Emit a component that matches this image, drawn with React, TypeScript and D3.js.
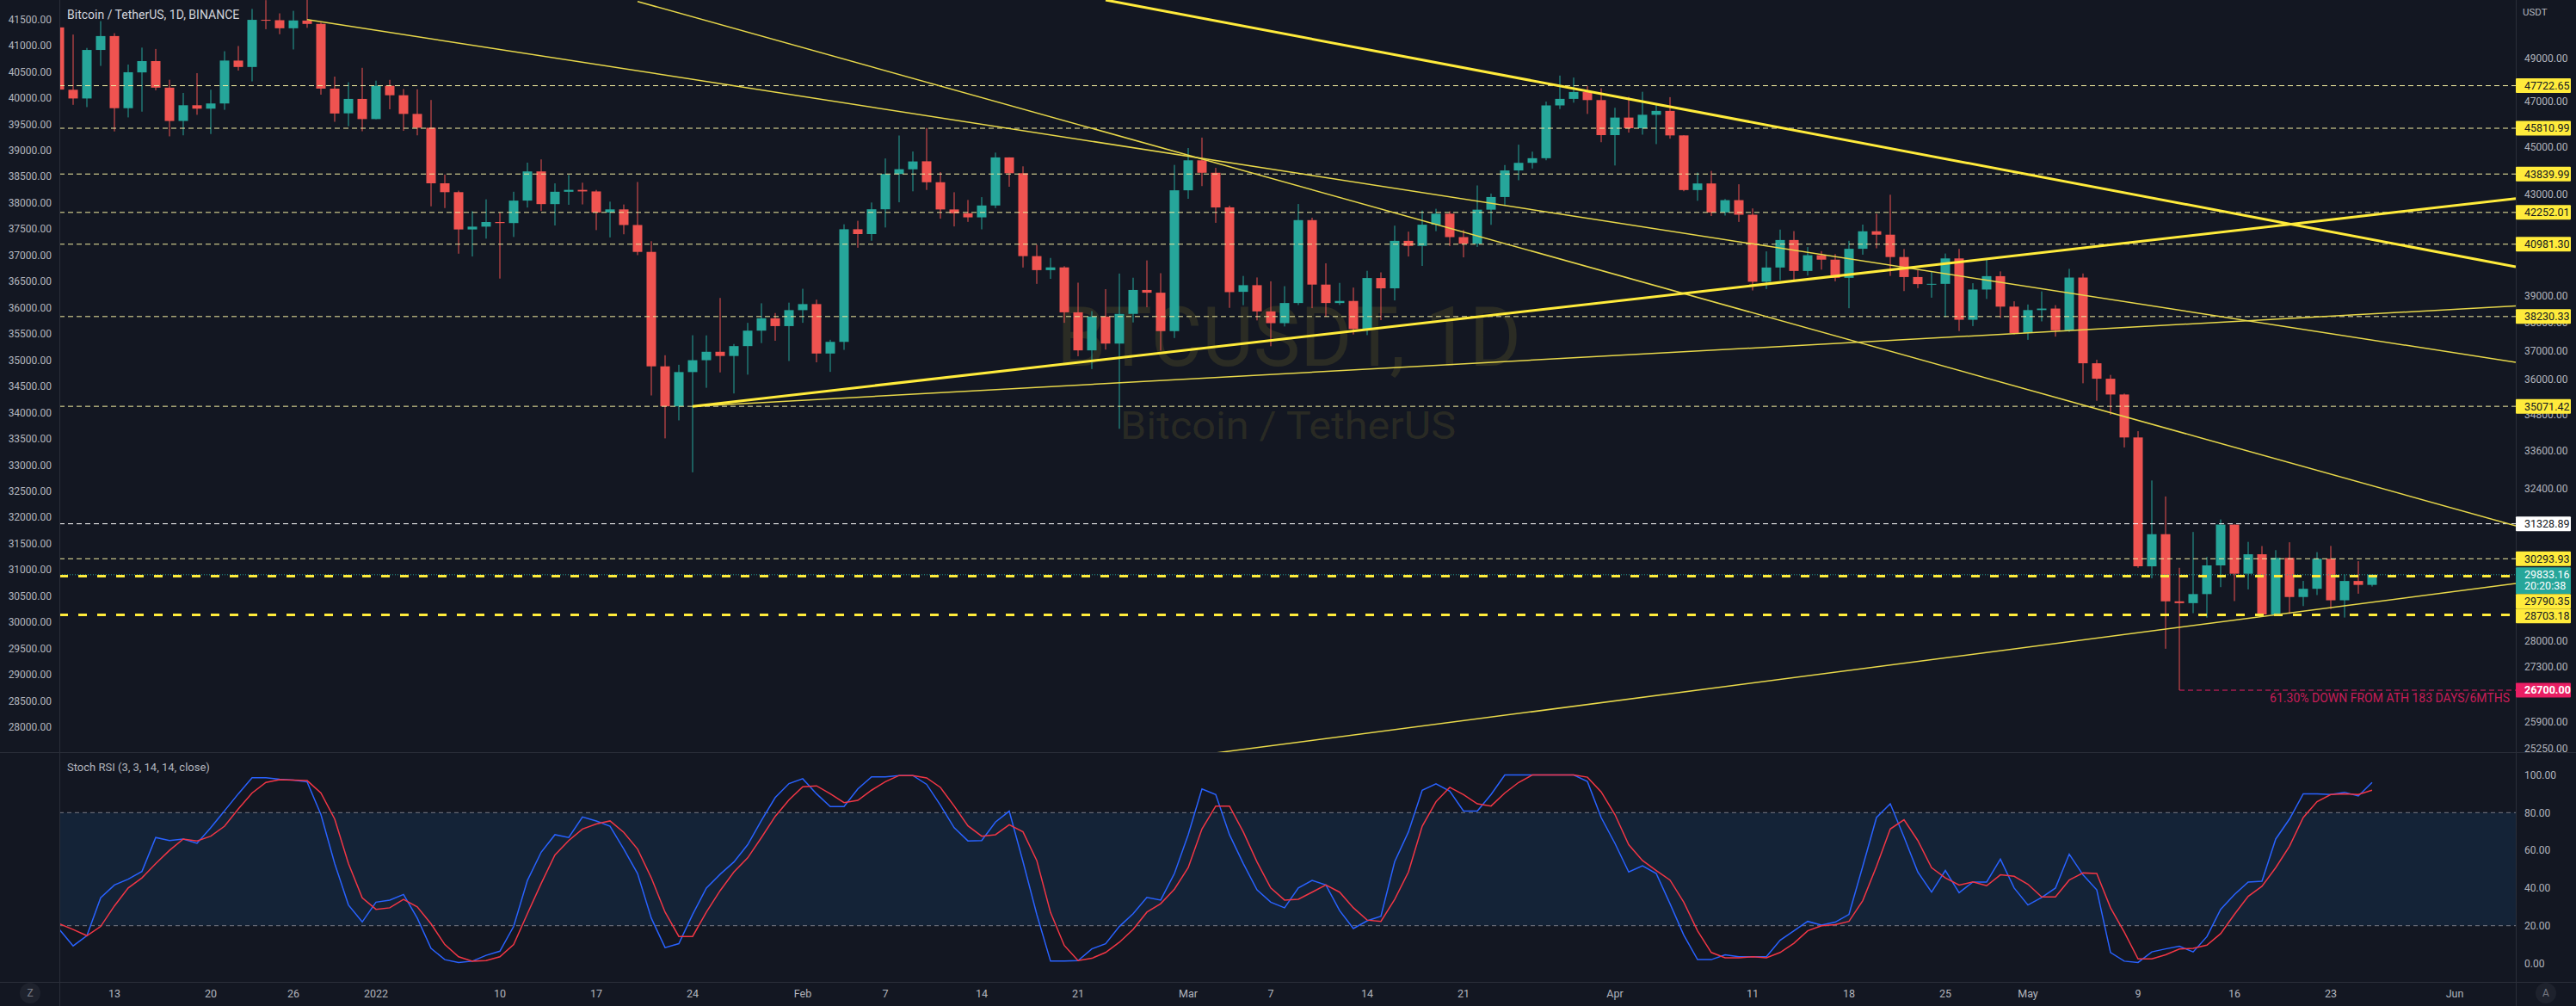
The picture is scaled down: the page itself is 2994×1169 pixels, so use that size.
import React from 'react';
import * as d3 from 'd3';

const WIDTH = 2994;
const HEIGHT = 1169;
const PANE_L = 69;
const PANE_R = 2924;
const MAIN_B = 874;
const STOCH_T = 875;
const STOCH_B = 1141;
const FONT = "Roboto, 'Noto Sans', sans-serif";
const TEXT = '#b2b5be';
const BG = '#131722';
const UP = '#26a69a';
const DOWN = '#ef5350';
const YELLOW = '#ffeb3b';

// daily candles, first one is 2021-12-09
const START = '2021-12-09';
const OPEN = [
  50471, 47535, 47140, 49389, 50053, 46702, 48336, 48864, 47632, 46133, 46834, 46681, 46914, 48887, 48588, 50838, 50821, 50429, 50803, 50640, 47588, 46472, 47120,
  46216, 47722, 47286, 46446, 45832, 43451, 43082, 41566, 41679, 41864, 41822, 42735, 43949, 42591, 43099, 43177, 43113, 42250, 42375, 41744, 40680, 36445, 35071, 36244, 36660, 36958, 36809, 37160, 37716, 38166, 37881,
  38466, 38690, 36896, 37311, 41574, 41382, 42380, 43839, 44038, 44380, 43495, 42373, 42217, 42053, 42535, 44544, 43873, 40515, 39974, 40079, 38386, 37008, 38230, 37250, 38328, 39219, 39116, 37699,
  43160, 44421, 43892, 42458, 39148, 39400, 38420, 37988, 38730, 41941, 39422, 38730, 38807, 37777, 39671, 39280, 41114, 40917, 41757, 42201, 41262, 41002, 42364, 42882, 43991, 44313, 44511, 46827, 47122, 47434, 47067,
  45510, 46283, 45811, 46407, 46580, 45497, 43170, 43444, 42252, 42753, 42159, 39530, 40074, 41148, 39942, 40552, 40378, 39678, 40801, 41494, 41358, 40480, 39709, 39441, 39450, 40426, 38112, 39235, 39742, 38596,
  37630, 38468, 38525, 37728, 39690, 36552, 36013, 35472, 34038, 30074, 31017, 29080, 29030, 29283, 30101, 31305, 29862, 30425, 28716, 30319, 29201, 29432, 30293, 29109, 29654, 29543,
];
const HIGH = [
  50797, 50125, 49485, 50777, 50189, 48700, 49500, 49436, 47995, 47392, 48300, 47537, 49328, 49576, 51375, 51810, 51156, 51280, 52088, 50704, 48139, 47879, 48548,
  47954, 47990, 47570, 47557, 47070, 43816, 43145, 42300, 42786, 42248, 43100, 44322, 44459, 43448, 43800, 43476, 43176, 42691, 42575, 43505, 41100, 36835, 36499, 37550, 37545, 38919, 37234, 38000, 38720, 38359, 38744,
  39265, 38855, 37387, 41772, 41913, 42656, 44500, 45492, 44799, 45821, 43920, 43079, 42760, 42876, 44751, 44549, 44164, 40959, 40444, 40125, 39494, 38429, 39249, 39843, 39683, 40348, 39855, 44225,
  44949, 45400, 44101, 42527, 39751, 39693, 39547, 39362, 42594, 42039, 40236, 39486, 39309, 39947, 39887, 41718, 41478, 42325, 42400, 42296, 41544, 43361, 43025, 44220, 45094, 44792, 46999, 48189, 48097, 47700, 47600,
  46720, 47213, 47444, 46890, 47200, 45507, 43900, 43970, 42800, 43410, 42414, 40699, 41561, 41500, 40870, 40709, 40595, 41116, 41760, 42199, 42976, 40795, 39980, 39940, 40617, 40797, 39474, 40372, 39925, 38795,
  38675, 39167, 38651, 40023, 39845, 36675, 36146, 35503, 34243, 32659, 32162, 30032, 31083, 30343, 31460, 31308, 30789, 30666, 30545, 30777, 29656, 30487, 30670, 29837, 30223, 29840,
];
const LOW = [
  47320, 46852, 46751, 48638, 45672, 46290, 46547, 47511, 45456, 45500, 46406, 45558, 46630, 48421, 47920, 50384, 50142, 49412, 50449, 47313, 46096, 45900, 45678,
  46208, 46654, 45696, 45500, 42500, 42430, 40610, 40501, 41200, 39650, 41268, 42450, 42311, 41725, 42563, 42578, 41540, 41250, 41374, 40553, 35440, 34008, 34601, 32917, 35701, 36234, 35507, 36155, 37268, 37351, 36632,
  38000, 36586, 36250, 37026, 40843, 41116, 41645, 42666, 43117, 43174, 42000, 41688, 41870, 41570, 42427, 43307, 40073, 39450, 39639, 38000, 36800, 36350, 37036, 34322, 38014, 38573, 37000, 37450,
  42809, 43334, 41832, 38550, 38650, 38088, 37155, 37867, 38656, 38539, 38223, 38660, 37578, 37555, 38098, 38828, 40500, 40135, 41499, 40911, 40467, 40875, 41751, 42560, 43579, 44071, 44422, 46663, 46950, 46445, 45200,
  44200, 45620, 45530, 45118, 45353, 43121, 42727, 42107, 42125, 41868, 39200, 39254, 39588, 39551, 39766, 39991, 39546, 38536, 40571, 40820, 39751, 39177, 39285, 38929, 38200, 37702, 37881, 38881, 38175, 37578,
  37386, 38052, 37500, 37670, 35856, 35258, 34785, 33713, 30033, 29730, 27785, 26700, 28751, 28630, 29480, 29087, 29415, 28654, 28670, 28730, 28948, 29256, 28866, 28630, 29294, 29496,
];
const CLOSE = [
  47545, 47140, 49389, 50053, 46702, 48343, 48864, 47632, 46131, 46834, 46681, 46914, 48889, 48588, 50838, 50821, 50429, 50809, 50640, 47588, 46464, 47120, 46216,
  47722, 47286, 46446, 45832, 43451, 43082, 41566, 41679, 41864, 41822, 42735, 43949, 42591, 43099, 43177, 43113, 42250, 42375, 41744, 40680, 36445, 35071, 36244, 36660, 36958, 36809, 37160, 37716, 38166, 37881, 38466,
  38690, 36896, 37311, 41574, 41382, 42380, 43839, 44042, 44373, 43495, 42373, 42217, 42053, 42535, 44544, 43873, 40515, 39974, 40079, 38386, 37008, 38230, 37250, 38327, 39219, 39116, 37699, 43160,
  44421, 43892, 42454, 39137, 39400, 38420, 37988, 38730, 41941, 39422, 38730, 38807, 37777, 39671, 39280, 41114, 40917, 41757, 42201, 41262, 41002, 42364, 42882, 43991, 44313, 44511, 46827, 47122, 47434, 47067, 45510,
  46283, 45811, 46407, 46580, 45497, 43170, 43444, 42252, 42753, 42159, 39530, 40074, 41147, 39942, 40551, 40378, 39678, 40801, 41493, 41358, 40480, 39709, 39441, 39450, 40426, 38112, 39235, 39743, 38596, 37630,
  38468, 38525, 37728, 39690, 36552, 36013, 35472, 34038, 30076, 31017, 29080, 29030, 29283, 30101, 31305, 29862, 30425, 28715, 30319, 29201, 29432, 30293, 29109, 29654, 29543, 29833,
];

// Stoch RSI (3, 3, 14, 14, close), same days
const STOCH_K = [
  18, 9.3, 14.7, 34.8, 41.6, 44.7, 48.8, 66.8, 65.2, 66, 63.7, 72, 81, 90, 98.5, 98.5, 97.7, 97.3, 96.3, 79, 53, 31, 22,
  32.5, 33.6, 36.6, 24, 8, 2, 0.5, 1.2, 4.3, 6.5, 19.6, 44, 59, 68.3, 66.8, 77.7, 75.6, 72.8, 60.7, 47.7, 24, 8.4, 10.5, 26, 40, 47.3, 53.8, 63, 75.9, 88, 95.4,
  98, 90, 83.2, 83.2, 92.6, 99, 99, 99.7, 99.7, 95, 84, 72, 65, 65.2, 75, 80.8, 54, 26, 1.2, 1.2, 1.5, 7.7, 10.4, 19.6, 26.4, 35, 33.6, 47.7,
  68.3, 92.6, 89.6, 68.3, 53, 39, 32.5, 29.5, 40, 44, 41.6, 28, 18.5, 22.6, 25, 54, 69.8, 91.9, 95.3, 91.4, 80.8, 80.8, 89.6, 100, 100, 100, 100, 100, 100, 96.5, 77.4,
  63.7, 48.5, 51.8, 47.7, 31.7, 15, 2, 2, 4.6, 3.5, 3.5, 3.5, 12.3, 17.3, 22.3, 20.3, 21.9, 26, 51.5, 77.4, 84.7, 67, 48.5, 37.8, 49.3, 37.5, 43.2, 43.2, 55.3, 40,
  31, 35, 40, 58, 47, 39, 5.8, 1.2, 0.5, 6.1, 7.7, 9.1, 6.1, 14.2, 28.7, 36.5, 43.2, 43.6, 66, 76.6, 90, 90, 89.6, 90.8, 88.8, 96,
];
const STOCH_D = [
  21, 18, 14.7, 19.6, 30.5, 40, 45.4, 53, 60, 66, 65, 67.5, 72.8, 82, 90.4, 96, 97.5, 97.3, 97, 90.4, 76.6, 53, 34.8,
  28.7, 29.5, 34, 30, 21, 10, 3.5, 1.2, 1.5, 3.5, 10, 26.4, 42.4, 57.6, 65.2, 71.3, 74, 75.6, 69.5, 60.7, 45.4, 27.2, 14.3, 14.3, 27.2, 38.6, 48.5, 56, 66.8, 78, 86.8,
  93.7, 94.2, 90, 85.3, 86.5, 91.9, 96.4, 99.7, 99.7, 98.4, 93.4, 83.5, 73, 67.5, 68.3, 73.6, 69.8, 54.6, 27, 9.5, 1.5, 2.7, 5.8, 11.2, 18, 27.2, 31.7, 39.4,
  50.8, 71.3, 83.5, 83.5, 69.8, 53.8, 40, 33.6, 34, 37.8, 41.6, 37.8, 29.5, 23, 22.3, 34, 48.5, 72.8, 85.8, 93.4, 89.6, 84.7, 83.5, 90.4, 96, 100, 100, 100, 100, 98.8, 91,
  79, 63, 54.6, 49.3, 44.2, 32.5, 17.3, 5.8, 3, 3, 3.5, 3, 5.8, 10.7, 17.3, 20, 20.6, 22.3, 33.3, 51.5, 71.3, 76.2, 65.2, 50.8, 45.4, 41.6, 43.2, 41.2, 47, 46.2,
  42, 35.3, 35.3, 44.2, 48, 47.7, 29.5, 16.6, 2.4, 2.4, 4.6, 7.6, 8, 9.7, 15.8, 26, 35.6, 40.9, 50.8, 62.2, 77.4, 85.8, 89.6, 90, 89.6, 91.9,
];

const LEFT_TICKS = d3.range(28000, 42000, 500);
const RIGHT_TICKS = [49000, 47000, 45000, 43000, 39000, 38000, 37000, 36000, 34800, 33600, 32400, 28000, 27300, 25900, 25250];
const STOCH_TICKS = [100, 80, 60, 40, 20, 0];
const DATE_TICKS = [
  '2021-12-13', '2021-12-20', '2021-12-26', '2022-01-01', '2022-01-10', '2022-01-17', '2022-01-24', '2022-02-01',
  '2022-02-07', '2022-02-14', '2022-02-21', '2022-03-01', '2022-03-07', '2022-03-14', '2022-03-21', '2022-04-01',
  '2022-04-11', '2022-04-18', '2022-04-25', '2022-05-01', '2022-05-09', '2022-05-16', '2022-05-23', '2022-06-01',
];
const DATE_LABELS = ['13', '20', '26', '2022', '10', '17', '24', 'Feb', '7', '14', '21', 'Mar', '7', '14', '21', 'Apr', '11', '18', '25', 'May', '9', '16', '23', 'Jun'];

// horizontal levels
const LEVELS = [47722.65, 45810.99, 43839.99, 42252.01, 40981.30, 38230.33, 35071.42, 30293.93];
const WHITE_LEVEL = 31328.89;
const BOLD_LEVELS = [29790.35, 28703.18];
const LAST_PRICE = 29833.16;
const COUNTDOWN = '20:20:38';
const LOW_DATE = '2022-05-12';
const LOW_PRICE = 26700;
const LOW_NOTE = '61.30% DOWN FROM ATH 183 DAYS/6MTHS';

// trend lines: two anchors each [date, price], extended right
const THICK_TRENDS: [string, number][][] = [
  [['2022-01-24', 35071], ['2022-05-20', 41770]],
  [['2022-02-23', 51817], ['2022-04-30', 43931]],
];
const THIN_TRENDS: [string, number][][] = [
  [['2021-12-27', 50853], ['2022-04-30', 39427]],
  [['2022-01-20', 51744], ['2022-04-30', 35770]],
  [['2022-01-24', 35071], ['2022-04-30', 37610]],
  [['2022-03-01', 25052], ['2022-05-12', 28362]],
];

const parse = d3.utcParse('%Y-%m-%d');

export default function App() {
  const start = parse(START) as Date;
  const dates = OPEN.map((_, i) => d3.utcDay.offset(start, i));

  const x = d3.scaleUtc()
    .domain([parse('2021-12-13') as Date, parse('2022-06-01') as Date])
    .range([133, 2853]);
  const y = d3.scaleLog().domain([25158, 51817]).range([MAIN_B, 0]);
  const yLeft = d3.scaleLinear().domain([28000, 41500]).range([845, 22.5]);
  const ys = d3.scaleLinear().domain([0, 100]).range([1119.5, 900.5]);
  const bodyW = 11;

  const fmt = (v: number) => v.toFixed(2);

  const ray = (pts: [string, number][]) => {
    const x1 = x(parse(pts[0][0]) as Date), y1 = y(pts[0][1]);
    const x2 = x(parse(pts[1][0]) as Date), y2 = y(pts[1][1]);
    const t = (PANE_R - x1) / (x2 - x1);
    return { x1, y1, x2: PANE_R, y2: y1 + t * (y2 - y1) };
  };

  const kLine = d3.line<number>().x((_, i) => x(dates[i])).y(d => ys(d));

  // right axis price labels, pushed down when they collide
  type Lbl = { y: number; h: number; bg: string; fg: string; lines: string[]; bold?: boolean };
  const raw: Lbl[] = [
    ...LEVELS.map(p => ({ y: y(p), h: 17, bg: YELLOW, fg: '#131722', lines: [fmt(p)] })),
    { y: y(WHITE_LEVEL), h: 17, bg: '#ffffff', fg: '#131722', lines: [fmt(WHITE_LEVEL)] },
    { y: y(LAST_PRICE), h: 31, bg: UP, fg: '#ffffff', lines: [fmt(LAST_PRICE), COUNTDOWN] },
    ...BOLD_LEVELS.map(p => ({ y: y(p), h: 17, bg: YELLOW, fg: '#131722', lines: [fmt(p)] })),
    { y: y(LOW_PRICE), h: 17, bg: '#e91e63', fg: '#ffffff', lines: [fmt(LOW_PRICE)], bold: true },
  ].sort((a, b) => a.y - b.y);
  let bottom = -Infinity;
  const labels = raw.map(l => {
    const top = Math.max(l.y - 8.5, bottom);
    bottom = top + l.h;
    return { ...l, top };
  });

  const lowX = x(parse(LOW_DATE) as Date);

  return (
    <svg width={WIDTH} height={HEIGHT} style={{ position: 'absolute', left: 0, top: 0, display: 'block', background: BG }}
      fontFamily={FONT}>
      <defs>
        <clipPath id="mainClip"><rect x={PANE_L} y={0} width={PANE_R - PANE_L} height={MAIN_B} /></clipPath>
        <clipPath id="stochClip"><rect x={PANE_L} y={STOCH_T} width={PANE_R - PANE_L} height={STOCH_B - STOCH_T} /></clipPath>
      </defs>
      <rect x={0} y={0} width={WIDTH} height={HEIGHT} fill={BG} />

      {/* watermark */}
      <g fill={YELLOW} fillOpacity={0.1} textAnchor="middle">
        <text x={1498} y={425} fontSize={96} textLength={540} lengthAdjust="spacingAndGlyphs">BTCUSDT, 1D</text>
        <text x={1497} y={510} fontSize={45} textLength={390} lengthAdjust="spacingAndGlyphs">Bitcoin / TetherUS</text>
      </g>

      {/* candles */}
      <g clipPath="url(#mainClip)">
        {dates.map((d, i) => {
          const cx = x(d);
          const up = CLOSE[i] >= OPEN[i];
          const c = up ? UP : DOWN;
          const yt = y(Math.max(OPEN[i], CLOSE[i]));
          const yb = y(Math.min(OPEN[i], CLOSE[i]));
          return (
            <g key={i}>
              <line x1={cx} x2={cx} y1={y(HIGH[i])} y2={y(LOW[i])} stroke={c} strokeWidth={1} />
              <rect x={cx - bodyW / 2} y={yt} width={bodyW} height={Math.max(1, yb - yt)} fill={c} />
            </g>
          );
        })}
      </g>

      {/* levels and trend lines */}
      <g clipPath="url(#mainClip)">
        {LEVELS.map(p => (
          <line key={p} x1={PANE_L} x2={PANE_R} y1={y(p)} y2={y(p)} stroke="#f3eda0" strokeWidth={1} strokeDasharray="6,4" />
        ))}
        <line x1={PANE_L} x2={PANE_R} y1={y(WHITE_LEVEL)} y2={y(WHITE_LEVEL)} stroke="#ffffff" strokeWidth={1} strokeDasharray="6,4" />
        <line x1={PANE_L} x2={PANE_R} y1={y(LAST_PRICE)} y2={y(LAST_PRICE)} stroke={UP} strokeWidth={1} strokeDasharray="1,2" />
        {BOLD_LEVELS.map(p => (
          <line key={p} x1={PANE_L} x2={PANE_R} y1={y(p)} y2={y(p)} stroke={YELLOW} strokeWidth={3} strokeDasharray="10,12" />
        ))}
        <line x1={lowX} x2={PANE_R} y1={y(LOW_PRICE)} y2={y(LOW_PRICE)} stroke="#e91e63" strokeWidth={1} strokeDasharray="6,4" />
        <text x={2917} y={816} fontSize={14} fill="#e91e63" fillOpacity={0.85} textAnchor="end">{LOW_NOTE}</text>
        {THIN_TRENDS.map((t, i) => {
          const r = ray(t);
          return <line key={i} {...r} stroke="#e8d84a" strokeWidth={1.5} />;
        })}
        {THICK_TRENDS.map((t, i) => {
          const r = ray(t);
          return <line key={i} {...r} stroke={YELLOW} strokeWidth={3} />;
        })}
      </g>

      <text x={78} y={22} fontSize={14} fill="#d1d4dc">Bitcoin / TetherUS, 1D, BINANCE</text>

      {/* stoch rsi pane */}
      <rect x={PANE_L} y={ys(80)} width={PANE_R - PANE_L} height={ys(20) - ys(80)} fill="rgba(33,150,243,0.1)" />
      {[80, 20].map(v => (
        <line key={v} x1={PANE_L} x2={PANE_R} y1={ys(v)} y2={ys(v)} stroke="#787b86" strokeWidth={1} strokeDasharray="5,4" />
      ))}
      <g clipPath="url(#stochClip)" fill="none" strokeWidth={1.5}>
        <path d={kLine(STOCH_K) || ''} stroke="#2962ff" />
        <path d={kLine(STOCH_D) || ''} stroke="#f23645" />
      </g>
      <text x={78} y={896} fontSize={13} fill={TEXT}>Stoch RSI (3, 3, 14, 14, close)</text>

      {/* frame */}
      <g stroke="#2a2e39" strokeWidth={1}>
        <line x1={0} x2={WIDTH} y1={MAIN_B + 0.5} y2={MAIN_B + 0.5} />
        <line x1={0} x2={WIDTH} y1={STOCH_B + 0.5} y2={STOCH_B + 0.5} />
        <line x1={PANE_L + 0.5} x2={PANE_L + 0.5} y1={0} y2={HEIGHT} />
        <line x1={PANE_R + 0.5} x2={PANE_R + 0.5} y1={0} y2={HEIGHT} />
      </g>

      {/* left axis */}
      <g fontSize={12} fill={TEXT} textAnchor="end">
        {LEFT_TICKS.map(v => (
          <text key={v} x={60} y={yLeft(v)} dy="0.35em">{fmt(v)}</text>
        ))}
      </g>

      {/* right axis */}
      <text x={2932} y={18} fontSize={11.5} fill={TEXT}>USDT</text>
      <g fontSize={12} fill={TEXT}>
        {RIGHT_TICKS.map(v => (
          <text key={v} x={2934} y={y(v)} dy="0.35em">{fmt(v)}</text>
        ))}
        {STOCH_TICKS.map(v => (
          <text key={v} x={2934} y={ys(v)} dy="0.35em">{fmt(v)}</text>
        ))}
      </g>
      {labels.map((l, i) => (
        <g key={i}>
          <rect x={PANE_R} y={l.top} width={64} height={l.h} fill={l.bg} rx={1} />
          {l.lines.map((t, j) => (
            <text key={j} x={2934} y={l.top + 8.5 + j * 13} dy="0.35em" fontSize={12.5} fill={l.fg}
              fontWeight={l.bold ? 700 : 400}>{t}</text>
          ))}
        </g>
      ))}

      {/* time axis */}
      <g fontSize={12.5} fill={TEXT} textAnchor="middle">
        {DATE_TICKS.map((t, i) => (
          <text key={t} x={x(parse(t) as Date)} y={1155} dy="0.35em">{DATE_LABELS[i]}</text>
        ))}
      </g>
      <circle cx={35} cy={1154} r={12} fill="#1e222d" />
      <text x={35} y={1154} dy="0.35em" fontSize={12} fill="#787b86" textAnchor="middle">Z</text>
      <circle cx={2959} cy={1154} r={12} fill="#1e222d" />
      <text x={2959} y={1154} dy="0.35em" fontSize={12} fill="#787b86" textAnchor="middle">A</text>
    </svg>
  );
}
